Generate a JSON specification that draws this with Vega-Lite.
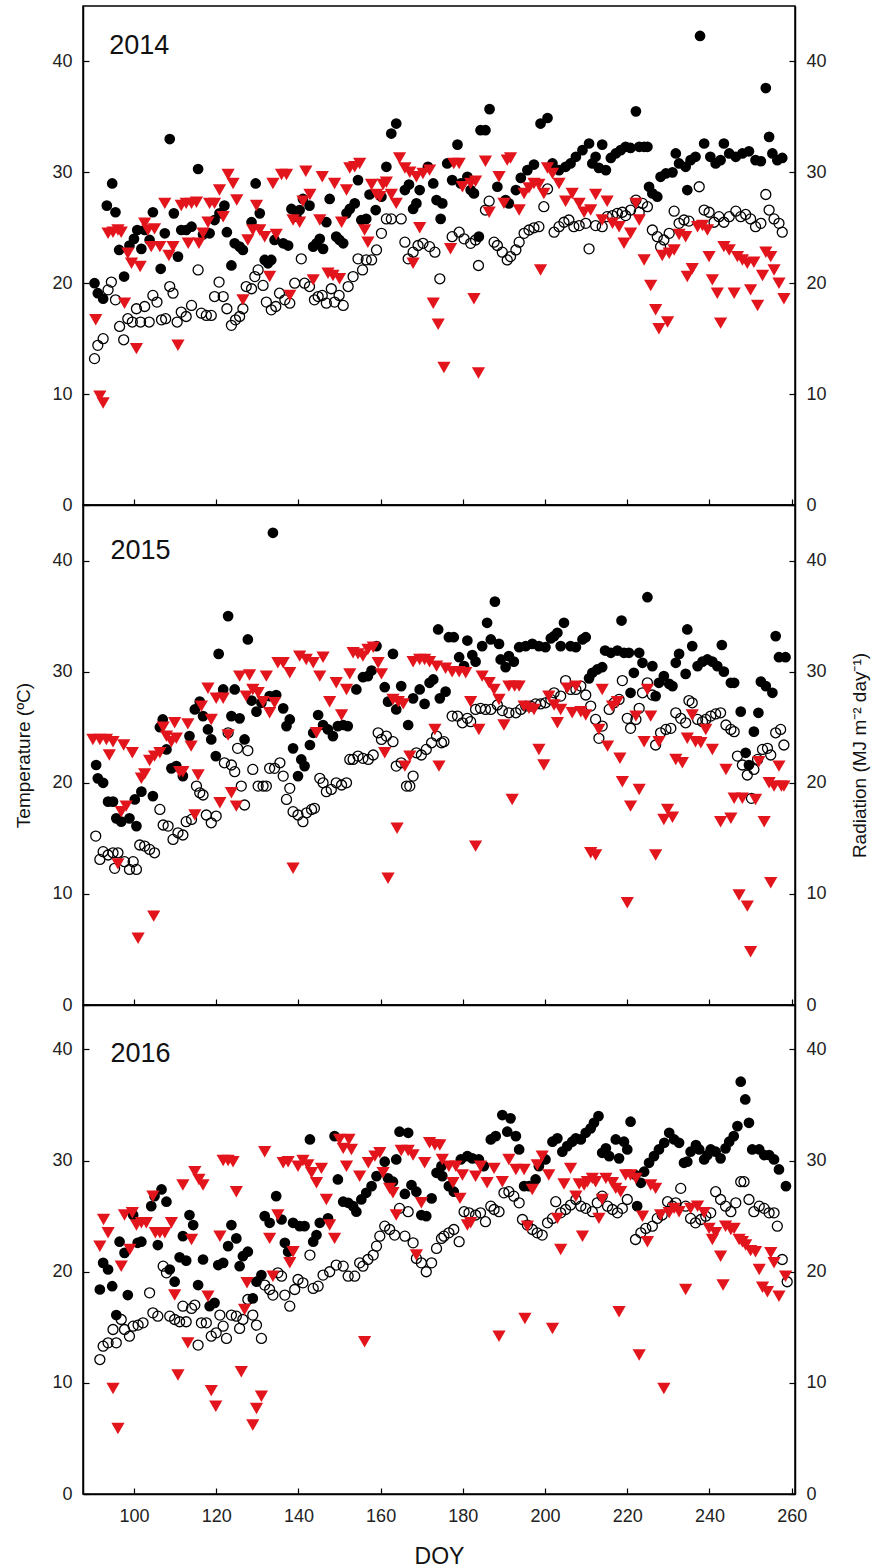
{
  "$schema": "https://vega.github.io/schema/vega-lite/v6.json",
  "padding": {"left": 14, "top": 5, "right": 6, "bottom": 2},
  "background": "white",
  "config": {
    "font": "Liberation Sans",
    "view": {"stroke": "#000", "strokeWidth": 1.5},
    "axis": {"grid": false, "domainColor": "#000", "domainWidth": 1.5, "tickColor": "#000", "tickWidth": 1.2, "tickSize": -6, "labelFont": "Liberation Sans", "labelFontSize": 18, "labelColor": "#222", "labelFlush": false, "labelOverlap": false, "labelPadding": 17, "titleFont": "Liberation Sans", "titleFontSize": 19, "titleFontWeight": "normal", "titleColor": "#111"}
  },
  "datasets": {
    "tmax2014": [{"d":90.4,"v":20.0},{"d":91.2,"v":19.1},{"d":92.5,"v":18.6},{"d":93.4,"v":27.0},{"d":94.7,"v":29.0},{"d":95.5,"v":26.4},{"d":96.4,"v":23.0},{"d":97.6,"v":20.6},{"d":98.9,"v":23.4},{"d":100.0,"v":24.0},{"d":100.8,"v":24.8},{"d":101.8,"v":23.1},{"d":102.6,"v":24.8},{"d":103.8,"v":23.9},{"d":104.6,"v":26.4},{"d":106.5,"v":21.3},{"d":107.5,"v":24.5},{"d":108.7,"v":33.0},{"d":109.7,"v":26.3},{"d":110.7,"v":22.4},{"d":111.5,"v":24.8},{"d":112.7,"v":24.8},{"d":114.0,"v":25.1},{"d":115.6,"v":30.3},{"d":116.8,"v":24.4},{"d":118.4,"v":24.5},{"d":119.6,"v":25.7},{"d":120.8,"v":26.3},{"d":122.0,"v":27.0},{"d":122.6,"v":24.6},{"d":123.7,"v":21.6},{"d":124.5,"v":23.6},{"d":125.7,"v":23.3},{"d":126.5,"v":23.0},{"d":128.6,"v":25.5},{"d":129.6,"v":29.0},{"d":130.6,"v":26.3},{"d":131.8,"v":22.1},{"d":132.6,"v":21.8},{"d":133.4,"v":22.1},{"d":134.2,"v":23.9},{"d":136.3,"v":23.6},{"d":137.5,"v":23.4},{"d":138.3,"v":26.7},{"d":139.5,"v":26.0},{"d":140.3,"v":26.6},{"d":141.1,"v":27.6},{"d":142.7,"v":27.0},{"d":143.6,"v":23.3},{"d":144.4,"v":23.6},{"d":145.2,"v":24.0},{"d":146.0,"v":23.1},{"d":146.8,"v":25.5},{"d":147.6,"v":27.6},{"d":149.2,"v":24.2},{"d":150.0,"v":23.9},{"d":150.9,"v":23.6},{"d":151.7,"v":26.3},{"d":152.5,"v":26.7},{"d":153.7,"v":27.2},{"d":154.5,"v":29.3},{"d":155.3,"v":25.7},{"d":156.5,"v":25.8},{"d":157.3,"v":28.0},{"d":158.8,"v":26.6},{"d":160.2,"v":27.8},{"d":161.4,"v":30.5},{"d":162.6,"v":33.5},{"d":163.8,"v":34.4},{"d":165.9,"v":28.4},{"d":166.9,"v":28.9},{"d":167.9,"v":26.7},{"d":168.7,"v":27.2},{"d":169.5,"v":28.4},{"d":171.5,"v":30.5},{"d":172.8,"v":29.0},{"d":173.6,"v":27.5},{"d":174.6,"v":25.8},{"d":175.0,"v":27.2},{"d":176.2,"v":30.8},{"d":177.4,"v":29.3},{"d":178.7,"v":32.5},{"d":179.5,"v":29.0},{"d":181.1,"v":29.6},{"d":181.9,"v":28.4},{"d":182.7,"v":28.1},{"d":183.9,"v":24.2},{"d":184.3,"v":33.8},{"d":185.5,"v":33.8},{"d":186.5,"v":35.7},{"d":188.4,"v":28.7},{"d":190.4,"v":27.5},{"d":191.2,"v":27.2},{"d":192.9,"v":28.4},{"d":194.1,"v":29.5},{"d":195.7,"v":30.2},{"d":197.3,"v":30.7},{"d":198.9,"v":34.4},{"d":200.6,"v":34.9},{"d":201.8,"v":30.8},{"d":203.4,"v":30.2},{"d":205.0,"v":30.5},{"d":206.2,"v":30.8},{"d":207.5,"v":31.4},{"d":209.1,"v":32.0},{"d":210.7,"v":32.6},{"d":211.5,"v":30.8},{"d":212.3,"v":31.4},{"d":213.1,"v":30.4},{"d":213.9,"v":32.5},{"d":214.8,"v":30.2},{"d":216.0,"v":31.3},{"d":217.2,"v":31.7},{"d":218.4,"v":32.0},{"d":219.6,"v":32.3},{"d":220.8,"v":32.2},{"d":222.1,"v":35.5},{"d":222.9,"v":32.3},{"d":224.1,"v":32.3},{"d":224.9,"v":32.3},{"d":225.3,"v":28.7},{"d":226.1,"v":28.1},{"d":227.3,"v":27.8},{"d":228.1,"v":29.6},{"d":229.4,"v":29.9},{"d":231.0,"v":30.0},{"d":231.8,"v":31.7},{"d":232.6,"v":30.8},{"d":234.2,"v":30.5},{"d":234.6,"v":28.4},{"d":235.4,"v":31.1},{"d":236.6,"v":31.4},{"d":237.7,"v":42.3},{"d":238.7,"v":32.6},{"d":240.2,"v":31.4},{"d":241.5,"v":30.8},{"d":242.7,"v":31.1},{"d":243.5,"v":32.6},{"d":244.8,"v":31.7},{"d":246.4,"v":31.4},{"d":248.0,"v":31.7},{"d":249.6,"v":31.9},{"d":251.2,"v":31.1},{"d":252.5,"v":31.0},{"d":253.7,"v":37.6},{"d":254.5,"v":33.2},{"d":255.3,"v":31.7},{"d":256.5,"v":31.1},{"d":257.7,"v":31.3}],
    "tmin2014": [{"d":90.4,"v":13.2},{"d":91.2,"v":14.4},{"d":92.5,"v":15.0},{"d":93.7,"v":19.4},{"d":94.5,"v":20.1},{"d":95.5,"v":18.5},{"d":96.5,"v":16.1},{"d":97.5,"v":14.9},{"d":98.5,"v":16.8},{"d":99.6,"v":16.5},{"d":100.6,"v":17.7},{"d":101.6,"v":16.5},{"d":102.6,"v":17.9},{"d":103.7,"v":16.5},{"d":104.6,"v":18.9},{"d":105.6,"v":18.3},{"d":106.7,"v":16.7},{"d":107.7,"v":16.8},{"d":108.7,"v":19.7},{"d":109.5,"v":19.1},{"d":110.5,"v":16.5},{"d":111.5,"v":17.4},{"d":112.7,"v":17.0},{"d":114.0,"v":18.0},{"d":115.6,"v":21.2},{"d":116.4,"v":17.3},{"d":117.6,"v":17.1},{"d":118.8,"v":17.1},{"d":119.6,"v":18.8},{"d":120.7,"v":20.1},{"d":121.7,"v":18.8},{"d":122.6,"v":17.7},{"d":123.7,"v":16.2},{"d":124.7,"v":16.7},{"d":125.7,"v":17.0},{"d":126.5,"v":17.7},{"d":127.3,"v":19.7},{"d":128.6,"v":19.5},{"d":129.4,"v":20.6},{"d":130.2,"v":21.2},{"d":131.4,"v":19.8},{"d":132.2,"v":18.3},{"d":133.4,"v":17.6},{"d":134.5,"v":17.9},{"d":135.4,"v":19.1},{"d":136.7,"v":18.5},{"d":137.9,"v":18.2},{"d":139.1,"v":20.0},{"d":140.7,"v":22.2},{"d":141.5,"v":20.0},{"d":142.7,"v":19.7},{"d":143.9,"v":18.5},{"d":144.8,"v":18.8},{"d":145.8,"v":18.9},{"d":146.8,"v":18.2},{"d":148.0,"v":19.5},{"d":148.8,"v":18.3},{"d":149.9,"v":18.9},{"d":150.9,"v":18.0},{"d":152.1,"v":19.7},{"d":153.3,"v":20.6},{"d":154.5,"v":22.2},{"d":155.6,"v":21.2},{"d":156.5,"v":22.1},{"d":157.8,"v":22.1},{"d":159.0,"v":23.0},{"d":160.2,"v":24.5},{"d":161.4,"v":25.8},{"d":162.6,"v":25.8},{"d":165.0,"v":25.8},{"d":165.9,"v":23.7},{"d":166.7,"v":22.2},{"d":167.9,"v":22.8},{"d":169.1,"v":23.4},{"d":170.3,"v":23.6},{"d":171.9,"v":23.3},{"d":173.2,"v":22.8},{"d":174.4,"v":20.4},{"d":177.4,"v":24.2},{"d":179.1,"v":24.6},{"d":180.3,"v":24.0},{"d":181.9,"v":23.6},{"d":183.1,"v":23.9},{"d":183.8,"v":21.6},{"d":185.5,"v":26.6},{"d":186.4,"v":27.4},{"d":187.6,"v":23.7},{"d":188.4,"v":23.4},{"d":189.6,"v":22.8},{"d":190.8,"v":22.1},{"d":191.6,"v":22.4},{"d":192.9,"v":23.0},{"d":193.7,"v":23.7},{"d":194.9,"v":24.5},{"d":196.1,"v":24.8},{"d":197.3,"v":25.0},{"d":198.5,"v":25.1},{"d":199.7,"v":26.9},{"d":200.6,"v":28.5},{"d":202.2,"v":24.6},{"d":203.4,"v":25.1},{"d":204.6,"v":25.5},{"d":205.8,"v":25.7},{"d":207.0,"v":25.1},{"d":208.3,"v":25.2},{"d":209.9,"v":25.4},{"d":210.7,"v":23.1},{"d":212.3,"v":25.2},{"d":213.9,"v":25.1},{"d":215.1,"v":26.0},{"d":216.4,"v":26.1},{"d":217.6,"v":26.3},{"d":218.8,"v":26.4},{"d":219.6,"v":26.1},{"d":220.8,"v":26.6},{"d":222.1,"v":27.5},{"d":222.9,"v":26.4},{"d":223.7,"v":27.2},{"d":224.9,"v":26.9},{"d":226.1,"v":24.8},{"d":227.3,"v":24.2},{"d":228.1,"v":23.3},{"d":228.9,"v":23.9},{"d":230.2,"v":24.5},{"d":231.4,"v":26.5},{"d":232.6,"v":25.4},{"d":233.8,"v":25.7},{"d":235.0,"v":25.6},{"d":237.5,"v":28.7},{"d":238.7,"v":26.6},{"d":239.9,"v":26.4},{"d":241.1,"v":25.5},{"d":242.3,"v":26.0},{"d":243.5,"v":25.5},{"d":244.8,"v":26.0},{"d":246.4,"v":26.5},{"d":247.6,"v":26.0},{"d":248.8,"v":26.2},{"d":250.0,"v":25.8},{"d":251.2,"v":25.1},{"d":252.5,"v":25.4},{"d":253.7,"v":28.0},{"d":254.5,"v":26.6},{"d":255.7,"v":25.8},{"d":256.9,"v":25.4},{"d":257.7,"v":24.6}],
    "rad2014": [{"d":90.7,"v":16.7},{"d":91.7,"v":9.8},{"d":92.5,"v":9.2},{"d":93.7,"v":24.5},{"d":94.9,"v":24.6},{"d":96.1,"v":24.8},{"d":96.9,"v":24.6},{"d":97.7,"v":18.2},{"d":98.5,"v":22.7},{"d":99.4,"v":21.8},{"d":100.6,"v":14.1},{"d":101.5,"v":21.5},{"d":102.6,"v":25.4},{"d":103.4,"v":24.8},{"d":104.2,"v":23.3},{"d":105.0,"v":24.9},{"d":106.3,"v":23.3},{"d":107.5,"v":27.2},{"d":108.5,"v":22.5},{"d":109.5,"v":23.3},{"d":110.7,"v":14.4},{"d":111.5,"v":27.0},{"d":112.7,"v":27.2},{"d":113.2,"v":23.6},{"d":114.0,"v":27.2},{"d":115.2,"v":27.3},{"d":115.8,"v":23.6},{"d":116.8,"v":24.5},{"d":118.0,"v":25.5},{"d":118.4,"v":27.2},{"d":119.6,"v":27.2},{"d":120.8,"v":28.4},{"d":121.7,"v":26.0},{"d":122.9,"v":29.8},{"d":124.1,"v":29.0},{"d":125.0,"v":27.5},{"d":126.5,"v":18.5},{"d":127.7,"v":23.9},{"d":128.9,"v":24.8},{"d":129.8,"v":27.0},{"d":130.6,"v":24.8},{"d":131.8,"v":24.2},{"d":133.0,"v":20.6},{"d":133.8,"v":29.0},{"d":134.6,"v":24.4},{"d":135.9,"v":29.8},{"d":137.1,"v":29.8},{"d":137.9,"v":18.9},{"d":138.7,"v":25.7},{"d":140.3,"v":25.5},{"d":141.1,"v":27.4},{"d":141.8,"v":30.1},{"d":142.8,"v":28.0},{"d":143.6,"v":20.3},{"d":145.2,"v":25.7},{"d":145.8,"v":29.6},{"d":147.2,"v":20.9},{"d":148.4,"v":20.7},{"d":148.8,"v":29.0},{"d":150.0,"v":20.4},{"d":150.5,"v":25.5},{"d":151.7,"v":28.4},{"d":152.5,"v":30.4},{"d":153.7,"v":30.5},{"d":154.9,"v":30.8},{"d":156.1,"v":24.8},{"d":156.9,"v":23.7},{"d":157.8,"v":28.9},{"d":159.0,"v":28.0},{"d":159.8,"v":27.8},{"d":160.6,"v":28.9},{"d":161.4,"v":29.1},{"d":162.6,"v":28.0},{"d":163.8,"v":27.2},{"d":164.6,"v":31.3},{"d":165.9,"v":30.4},{"d":167.1,"v":30.0},{"d":167.9,"v":21.8},{"d":168.7,"v":29.6},{"d":169.5,"v":25.0},{"d":170.3,"v":29.9},{"d":171.9,"v":30.2},{"d":172.8,"v":18.2},{"d":174.0,"v":16.3},{"d":175.4,"v":12.4},{"d":177.0,"v":23.1},{"d":177.8,"v":30.8},{"d":179.1,"v":30.8},{"d":179.9,"v":28.7},{"d":181.9,"v":29.0},{"d":183.1,"v":29.2},{"d":182.7,"v":18.6},{"d":183.8,"v":11.9},{"d":185.5,"v":31.0},{"d":186.4,"v":26.4},{"d":188.8,"v":29.6},{"d":190.0,"v":27.2},{"d":190.8,"v":31.1},{"d":191.6,"v":31.3},{"d":193.7,"v":26.6},{"d":194.9,"v":28.1},{"d":196.1,"v":28.6},{"d":197.3,"v":29.0},{"d":198.5,"v":28.9},{"d":199.7,"v":28.1},{"d":198.9,"v":21.2},{"d":200.6,"v":30.4},{"d":201.8,"v":29.9},{"d":203.4,"v":29.0},{"d":205.0,"v":27.4},{"d":206.6,"v":28.1},{"d":208.3,"v":27.2},{"d":209.5,"v":26.4},{"d":211.1,"v":26.6},{"d":212.3,"v":28.0},{"d":213.9,"v":25.7},{"d":215.1,"v":27.4},{"d":216.4,"v":25.4},{"d":218.0,"v":25.1},{"d":219.2,"v":23.6},{"d":220.8,"v":24.5},{"d":222.1,"v":27.2},{"d":222.9,"v":25.7},{"d":224.1,"v":22.1},{"d":225.7,"v":19.8},{"d":226.9,"v":17.6},{"d":227.7,"v":15.9},{"d":229.8,"v":16.5},{"d":228.5,"v":22.5},{"d":230.2,"v":22.7},{"d":231.4,"v":23.0},{"d":232.6,"v":24.4},{"d":234.2,"v":24.2},{"d":234.6,"v":20.6},{"d":235.8,"v":21.3},{"d":237.1,"v":25.1},{"d":238.3,"v":25.2},{"d":239.5,"v":24.8},{"d":239.9,"v":22.4},{"d":240.7,"v":20.3},{"d":241.9,"v":19.1},{"d":242.7,"v":16.4},{"d":243.5,"v":23.3},{"d":244.8,"v":23.0},{"d":246.0,"v":19.1},{"d":246.8,"v":22.4},{"d":248.0,"v":22.1},{"d":249.2,"v":21.8},{"d":250.0,"v":19.4},{"d":250.8,"v":21.9},{"d":251.7,"v":18.0},{"d":252.9,"v":20.7},{"d":253.7,"v":22.8},{"d":254.9,"v":22.4},{"d":255.7,"v":21.2},{"d":256.9,"v":20.0},{"d":258.1,"v":18.6}],
    "tmax2015": [{"d":90.8,"v":21.6},{"d":91.2,"v":20.4},{"d":92.5,"v":20.0},{"d":93.7,"v":18.3},{"d":94.9,"v":18.3},{"d":95.7,"v":16.8},{"d":96.9,"v":16.5},{"d":98.9,"v":16.8},{"d":100.2,"v":18.5},{"d":100.6,"v":16.1},{"d":101.8,"v":19.2},{"d":104.6,"v":18.8},{"d":106.3,"v":25.0},{"d":107.0,"v":25.7},{"d":107.9,"v":23.0},{"d":109.1,"v":21.3},{"d":110.3,"v":21.5},{"d":111.9,"v":20.6},{"d":113.5,"v":24.2},{"d":114.8,"v":26.6},{"d":116.0,"v":27.3},{"d":116.8,"v":26.0},{"d":118.0,"v":24.8},{"d":118.8,"v":23.9},{"d":119.9,"v":22.4},{"d":120.6,"v":31.6},{"d":121.7,"v":28.4},{"d":122.9,"v":35.0},{"d":123.7,"v":26.0},{"d":124.5,"v":28.4},{"d":125.7,"v":25.8},{"d":126.9,"v":23.9},{"d":127.7,"v":32.9},{"d":128.6,"v":27.4},{"d":129.8,"v":26.4},{"d":131.0,"v":27.2},{"d":133.0,"v":27.8},{"d":133.8,"v":42.5},{"d":134.6,"v":27.9},{"d":136.3,"v":26.7},{"d":137.1,"v":25.1},{"d":137.9,"v":25.7},{"d":138.7,"v":23.1},{"d":139.9,"v":20.6},{"d":140.7,"v":22.1},{"d":141.5,"v":21.5},{"d":142.8,"v":23.4},{"d":143.6,"v":24.5},{"d":144.8,"v":26.1},{"d":146.0,"v":25.2},{"d":147.2,"v":24.8},{"d":148.4,"v":24.2},{"d":149.6,"v":25.1},{"d":150.9,"v":25.2},{"d":152.0,"v":25.1},{"d":154.1,"v":28.4},{"d":155.7,"v":29.5},{"d":156.9,"v":29.6},{"d":157.8,"v":30.1},{"d":159.0,"v":32.3},{"d":161.0,"v":28.6},{"d":161.8,"v":27.3},{"d":163.0,"v":31.6},{"d":163.8,"v":26.6},{"d":165.0,"v":28.7},{"d":166.7,"v":25.2},{"d":167.9,"v":27.6},{"d":169.5,"v":28.4},{"d":170.7,"v":27.1},{"d":171.9,"v":29.0},{"d":172.8,"v":29.3},{"d":174.0,"v":33.8},{"d":174.4,"v":27.6},{"d":175.8,"v":28.2},{"d":176.6,"v":33.1},{"d":177.8,"v":33.1},{"d":179.1,"v":31.3},{"d":180.3,"v":30.5},{"d":181.1,"v":32.8},{"d":182.3,"v":31.5},{"d":183.1,"v":30.9},{"d":184.7,"v":32.3},{"d":185.9,"v":34.4},{"d":186.8,"v":32.9},{"d":187.8,"v":36.3},{"d":188.8,"v":32.5},{"d":189.2,"v":31.1},{"d":190.4,"v":30.4},{"d":191.2,"v":31.4},{"d":192.4,"v":30.9},{"d":193.7,"v":32.2},{"d":195.3,"v":32.3},{"d":196.9,"v":32.5},{"d":198.5,"v":32.3},{"d":200.1,"v":32.2},{"d":201.4,"v":33.0},{"d":202.2,"v":33.2},{"d":203.0,"v":33.5},{"d":203.8,"v":32.3},{"d":204.6,"v":34.4},{"d":206.2,"v":32.3},{"d":207.5,"v":32.2},{"d":209.1,"v":32.9},{"d":209.9,"v":33.1},{"d":210.7,"v":29.4},{"d":211.5,"v":29.9},{"d":212.7,"v":30.2},{"d":213.9,"v":30.4},{"d":214.6,"v":31.9},{"d":216.0,"v":31.7},{"d":217.6,"v":31.9},{"d":218.6,"v":34.6},{"d":219.2,"v":31.7},{"d":220.4,"v":31.7},{"d":221.6,"v":29.9},{"d":220.8,"v":28.1},{"d":222.9,"v":31.7},{"d":223.7,"v":30.8},{"d":224.9,"v":36.7},{"d":226.1,"v":30.5},{"d":226.9,"v":27.8},{"d":227.7,"v":29.0},{"d":228.9,"v":29.6},{"d":230.2,"v":28.9},{"d":231.0,"v":28.7},{"d":231.8,"v":30.8},{"d":232.6,"v":31.6},{"d":234.2,"v":29.8},{"d":234.6,"v":33.8},{"d":235.8,"v":32.3},{"d":237.1,"v":30.5},{"d":238.3,"v":30.9},{"d":239.5,"v":31.1},{"d":240.7,"v":30.9},{"d":241.9,"v":30.5},{"d":243.0,"v":32.4},{"d":243.5,"v":30.0},{"d":245.2,"v":29.0},{"d":246.0,"v":29.0},{"d":247.6,"v":26.4},{"d":248.8,"v":22.7},{"d":249.6,"v":21.6},{"d":250.8,"v":24.6},{"d":251.9,"v":26.3},{"d":252.5,"v":29.1},{"d":253.7,"v":28.7},{"d":255.3,"v":28.1},{"d":256.1,"v":33.2},{"d":256.9,"v":31.3},{"d":258.5,"v":31.3}],
    "tmin2015": [{"d":90.7,"v":15.2},{"d":91.7,"v":13.1},{"d":92.5,"v":13.8},{"d":93.7,"v":13.5},{"d":94.9,"v":13.7},{"d":95.3,"v":12.3},{"d":96.1,"v":13.7},{"d":97.7,"v":12.9},{"d":98.9,"v":12.2},{"d":99.8,"v":12.9},{"d":100.6,"v":12.2},{"d":101.4,"v":14.4},{"d":102.6,"v":14.3},{"d":103.8,"v":14.0},{"d":105.0,"v":13.7},{"d":106.3,"v":17.6},{"d":107.1,"v":16.2},{"d":108.3,"v":16.1},{"d":109.5,"v":14.9},{"d":110.7,"v":15.5},{"d":111.9,"v":15.3},{"d":112.7,"v":16.5},{"d":114.0,"v":16.7},{"d":115.2,"v":19.7},{"d":116.0,"v":19.1},{"d":116.8,"v":18.9},{"d":117.6,"v":17.1},{"d":118.8,"v":16.4},{"d":120.0,"v":17.0},{"d":122.0,"v":21.8},{"d":122.9,"v":24.5},{"d":123.7,"v":21.6},{"d":124.5,"v":21.0},{"d":125.2,"v":23.1},{"d":126.1,"v":19.7},{"d":126.9,"v":18.0},{"d":127.7,"v":22.9},{"d":128.9,"v":21.2},{"d":130.2,"v":19.7},{"d":131.4,"v":19.7},{"d":132.2,"v":19.7},{"d":133.0,"v":21.3},{"d":134.2,"v":21.3},{"d":135.5,"v":21.8},{"d":136.3,"v":20.6},{"d":137.1,"v":18.5},{"d":137.9,"v":19.5},{"d":138.7,"v":17.4},{"d":139.9,"v":17.1},{"d":141.1,"v":16.5},{"d":142.0,"v":17.3},{"d":143.2,"v":17.6},{"d":143.9,"v":17.7},{"d":145.2,"v":20.4},{"d":146.0,"v":20.0},{"d":146.8,"v":19.2},{"d":148.0,"v":19.4},{"d":149.2,"v":20.0},{"d":150.5,"v":19.8},{"d":151.7,"v":20.0},{"d":152.5,"v":22.1},{"d":153.3,"v":22.1},{"d":154.5,"v":22.4},{"d":155.7,"v":22.2},{"d":157.0,"v":22.1},{"d":158.2,"v":22.5},{"d":159.4,"v":24.5},{"d":160.2,"v":23.9},{"d":161.4,"v":24.2},{"d":163.0,"v":23.7},{"d":163.8,"v":21.5},{"d":165.0,"v":21.8},{"d":166.3,"v":19.7},{"d":167.1,"v":19.7},{"d":167.9,"v":20.6},{"d":168.7,"v":22.7},{"d":169.9,"v":22.5},{"d":171.1,"v":23.0},{"d":172.4,"v":23.6},{"d":173.6,"v":24.2},{"d":174.8,"v":23.6},{"d":175.4,"v":23.7},{"d":177.4,"v":26.0},{"d":178.7,"v":26.0},{"d":179.9,"v":25.4},{"d":181.1,"v":25.8},{"d":181.9,"v":25.5},{"d":183.1,"v":26.6},{"d":184.3,"v":26.7},{"d":185.5,"v":26.6},{"d":186.8,"v":26.6},{"d":188.4,"v":27.0},{"d":189.6,"v":26.5},{"d":191.2,"v":26.3},{"d":192.9,"v":26.3},{"d":194.1,"v":26.6},{"d":195.3,"v":26.9},{"d":196.5,"v":26.9},{"d":197.7,"v":27.1},{"d":198.9,"v":27.1},{"d":200.1,"v":27.2},{"d":201.4,"v":27.5},{"d":202.2,"v":28.1},{"d":203.8,"v":27.8},{"d":205.0,"v":29.2},{"d":206.2,"v":28.4},{"d":207.5,"v":28.4},{"d":208.7,"v":28.7},{"d":209.9,"v":27.9},{"d":211.1,"v":26.9},{"d":212.3,"v":25.7},{"d":213.1,"v":24.0},{"d":213.9,"v":25.1},{"d":215.6,"v":26.6},{"d":216.8,"v":27.2},{"d":218.0,"v":27.5},{"d":218.8,"v":29.2},{"d":220.0,"v":25.8},{"d":220.8,"v":24.9},{"d":222.1,"v":25.7},{"d":222.9,"v":26.7},{"d":223.7,"v":28.1},{"d":224.9,"v":29.0},{"d":226.1,"v":27.9},{"d":226.9,"v":23.4},{"d":228.1,"v":24.5},{"d":229.4,"v":24.8},{"d":230.6,"v":24.9},{"d":231.8,"v":26.3},{"d":233.0,"v":25.8},{"d":234.2,"v":25.4},{"d":235.0,"v":27.4},{"d":235.8,"v":27.2},{"d":237.1,"v":25.7},{"d":238.3,"v":25.5},{"d":239.1,"v":25.7},{"d":240.3,"v":26.0},{"d":241.5,"v":26.2},{"d":242.7,"v":26.3},{"d":244.0,"v":25.2},{"d":245.2,"v":24.8},{"d":246.0,"v":24.6},{"d":246.8,"v":22.4},{"d":248.0,"v":21.6},{"d":249.2,"v":20.7},{"d":250.2,"v":18.6},{"d":250.8,"v":21.2},{"d":251.7,"v":22.1},{"d":252.9,"v":23.0},{"d":254.1,"v":23.1},{"d":254.9,"v":22.5},{"d":256.1,"v":24.5},{"d":257.3,"v":24.8},{"d":258.1,"v":23.4}],
    "rad2015": [{"d":90.0,"v":23.9},{"d":91.7,"v":23.9},{"d":93.3,"v":23.9},{"d":94.0,"v":22.5},{"d":94.9,"v":23.7},{"d":96.1,"v":12.7},{"d":96.9,"v":17.4},{"d":97.5,"v":23.4},{"d":98.1,"v":17.9},{"d":99.6,"v":22.7},{"d":101.0,"v":6.0},{"d":101.8,"v":20.4},{"d":102.6,"v":20.8},{"d":103.8,"v":22.0},{"d":104.8,"v":8.0},{"d":105.0,"v":22.4},{"d":106.3,"v":22.7},{"d":107.1,"v":25.0},{"d":107.9,"v":24.2},{"d":109.1,"v":23.7},{"d":109.9,"v":25.4},{"d":110.3,"v":24.0},{"d":111.1,"v":21.0},{"d":111.9,"v":21.0},{"d":113.1,"v":25.3},{"d":113.9,"v":23.3},{"d":114.8,"v":17.1},{"d":115.6,"v":20.7},{"d":116.4,"v":26.9},{"d":118.0,"v":28.5},{"d":118.8,"v":25.7},{"d":120.0,"v":27.6},{"d":120.9,"v":18.2},{"d":121.7,"v":27.6},{"d":122.9,"v":24.3},{"d":123.7,"v":19.1},{"d":124.9,"v":17.9},{"d":125.7,"v":29.6},{"d":127.3,"v":27.8},{"d":128.1,"v":29.7},{"d":128.9,"v":28.4},{"d":130.2,"v":28.1},{"d":131.4,"v":27.3},{"d":132.2,"v":29.6},{"d":133.0,"v":26.3},{"d":134.2,"v":27.2},{"d":135.0,"v":30.8},{"d":136.3,"v":30.8},{"d":137.9,"v":29.9},{"d":138.7,"v":12.3},{"d":140.3,"v":31.4},{"d":141.9,"v":31.1},{"d":143.6,"v":30.8},{"d":144.4,"v":24.5},{"d":145.2,"v":29.6},{"d":146.0,"v":31.3},{"d":147.6,"v":27.3},{"d":149.2,"v":29.0},{"d":150.5,"v":26.1},{"d":151.7,"v":28.4},{"d":152.5,"v":29.8},{"d":153.3,"v":31.7},{"d":154.5,"v":31.6},{"d":155.7,"v":31.4},{"d":156.9,"v":32.0},{"d":158.2,"v":32.2},{"d":159.4,"v":30.8},{"d":160.2,"v":29.8},{"d":161.0,"v":22.7},{"d":161.8,"v":11.4},{"d":163.0,"v":27.5},{"d":164.0,"v":15.9},{"d":164.3,"v":27.3},{"d":165.5,"v":27.1},{"d":165.9,"v":21.5},{"d":167.1,"v":22.4},{"d":167.9,"v":30.9},{"d":169.5,"v":31.1},{"d":170.7,"v":31.1},{"d":171.9,"v":30.9},{"d":173.6,"v":30.5},{"d":173.2,"v":24.8},{"d":174.2,"v":21.5},{"d":175.8,"v":30.3},{"d":177.4,"v":30.0},{"d":179.1,"v":30.0},{"d":180.7,"v":29.9},{"d":181.9,"v":27.3},{"d":183.1,"v":14.3},{"d":183.9,"v":24.8},{"d":184.7,"v":29.6},{"d":186.4,"v":29.0},{"d":187.6,"v":28.4},{"d":188.8,"v":27.5},{"d":190.0,"v":25.2},{"d":191.2,"v":28.7},{"d":192.0,"v":18.5},{"d":192.6,"v":28.7},{"d":193.7,"v":28.7},{"d":194.9,"v":26.9},{"d":196.1,"v":26.7},{"d":197.3,"v":26.6},{"d":198.5,"v":23.0},{"d":199.7,"v":21.6},{"d":200.9,"v":27.8},{"d":202.2,"v":27.0},{"d":203.0,"v":25.4},{"d":203.8,"v":26.6},{"d":205.4,"v":28.5},{"d":206.6,"v":26.3},{"d":207.5,"v":28.7},{"d":208.7,"v":26.4},{"d":209.9,"v":26.1},{"d":211.1,"v":13.7},{"d":212.3,"v":13.5},{"d":213.1,"v":24.8},{"d":213.9,"v":28.4},{"d":215.2,"v":23.3},{"d":216.4,"v":26.9},{"d":217.6,"v":27.3},{"d":218.2,"v":22.2},{"d":218.8,"v":20.1},{"d":220.0,"v":9.2},{"d":220.8,"v":17.9},{"d":222.1,"v":26.0},{"d":222.9,"v":19.4},{"d":224.1,"v":23.7},{"d":224.9,"v":28.4},{"d":225.7,"v":26.0},{"d":226.9,"v":13.5},{"d":227.7,"v":23.7},{"d":228.9,"v":16.7},{"d":229.8,"v":17.6},{"d":231.0,"v":16.9},{"d":231.8,"v":22.1},{"d":233.4,"v":21.8},{"d":234.6,"v":24.0},{"d":235.8,"v":26.1},{"d":236.6,"v":23.7},{"d":237.9,"v":23.6},{"d":239.1,"v":24.8},{"d":240.7,"v":23.0},{"d":242.7,"v":16.5},{"d":244.0,"v":21.2},{"d":245.2,"v":16.8},{"d":246.0,"v":18.6},{"d":247.2,"v":9.9},{"d":248.0,"v":18.6},{"d":249.2,"v":8.9},{"d":250.0,"v":4.8},{"d":251.2,"v":18.5},{"d":252.0,"v":21.9},{"d":253.3,"v":16.5},{"d":254.5,"v":20.0},{"d":254.9,"v":11.0},{"d":255.7,"v":19.7},{"d":256.9,"v":21.5},{"d":257.5,"v":19.7},{"d":258.1,"v":19.7}],
    "tmax2016": [{"d":91.7,"v":18.4},{"d":92.5,"v":20.8},{"d":93.7,"v":20.2},{"d":94.7,"v":18.7},{"d":95.7,"v":16.1},{"d":96.5,"v":22.7},{"d":97.7,"v":21.7},{"d":98.5,"v":17.9},{"d":99.8,"v":25.1},{"d":100.9,"v":22.6},{"d":101.8,"v":22.7},{"d":104.2,"v":25.9},{"d":105.0,"v":26.8},{"d":105.8,"v":22.4},{"d":106.7,"v":27.4},{"d":107.9,"v":26.3},{"d":108.7,"v":20.2},{"d":109.9,"v":19.1},{"d":111.1,"v":21.3},{"d":111.9,"v":23.2},{"d":112.7,"v":21.0},{"d":113.5,"v":25.1},{"d":114.4,"v":24.2},{"d":115.6,"v":18.8},{"d":116.8,"v":21.1},{"d":118.4,"v":16.9},{"d":119.6,"v":17.2},{"d":120.5,"v":20.6},{"d":121.7,"v":20.8},{"d":122.9,"v":22.3},{"d":123.7,"v":24.2},{"d":124.9,"v":23.0},{"d":125.7,"v":20.5},{"d":126.5,"v":21.4},{"d":127.7,"v":21.8},{"d":128.9,"v":17.6},{"d":129.8,"v":19.1},{"d":131.0,"v":19.7},{"d":131.8,"v":25.0},{"d":133.0,"v":24.4},{"d":134.6,"v":26.8},{"d":135.9,"v":24.7},{"d":136.7,"v":22.6},{"d":137.5,"v":21.8},{"d":138.7,"v":24.4},{"d":140.3,"v":24.1},{"d":141.5,"v":24.1},{"d":142.8,"v":31.9},{"d":143.6,"v":22.7},{"d":144.4,"v":23.3},{"d":145.2,"v":24.4},{"d":147.2,"v":24.8},{"d":148.8,"v":32.2},{"d":149.6,"v":28.3},{"d":150.9,"v":26.3},{"d":152.1,"v":26.2},{"d":153.3,"v":25.9},{"d":154.1,"v":25.4},{"d":155.3,"v":26.5},{"d":156.5,"v":27.1},{"d":157.8,"v":27.7},{"d":159.0,"v":28.6},{"d":161.0,"v":29.9},{"d":161.8,"v":28.4},{"d":163.0,"v":28.1},{"d":163.8,"v":30.1},{"d":164.6,"v":32.6},{"d":165.9,"v":27.0},{"d":166.7,"v":32.5},{"d":167.5,"v":27.8},{"d":168.7,"v":27.2},{"d":169.9,"v":25.1},{"d":171.1,"v":25.0},{"d":172.4,"v":26.6},{"d":173.6,"v":28.9},{"d":174.8,"v":29.5},{"d":175.0,"v":28.6},{"d":176.6,"v":27.7},{"d":177.8,"v":27.2},{"d":179.5,"v":30.1},{"d":181.1,"v":30.4},{"d":182.3,"v":30.2},{"d":183.9,"v":30.1},{"d":185.1,"v":29.5},{"d":186.8,"v":31.9},{"d":188.0,"v":32.2},{"d":189.6,"v":34.1},{"d":190.8,"v":32.6},{"d":191.6,"v":33.8},{"d":192.9,"v":32.2},{"d":193.7,"v":31.0},{"d":194.9,"v":27.7},{"d":196.1,"v":27.7},{"d":197.7,"v":28.3},{"d":198.5,"v":29.5},{"d":200.1,"v":30.1},{"d":201.8,"v":31.7},{"d":203.0,"v":32.0},{"d":204.2,"v":30.8},{"d":205.4,"v":31.3},{"d":206.6,"v":31.7},{"d":207.5,"v":32.0},{"d":208.7,"v":31.9},{"d":209.9,"v":32.5},{"d":211.1,"v":32.9},{"d":211.9,"v":33.4},{"d":213.0,"v":34.0},{"d":213.9,"v":30.7},{"d":214.8,"v":31.1},{"d":215.6,"v":30.4},{"d":217.2,"v":31.9},{"d":218.0,"v":30.2},{"d":219.2,"v":31.7},{"d":220.0,"v":31.0},{"d":220.8,"v":33.5},{"d":222.0,"v":28.7},{"d":222.4,"v":25.9},{"d":223.3,"v":28.0},{"d":224.1,"v":29.0},{"d":225.3,"v":29.8},{"d":226.5,"v":30.4},{"d":227.7,"v":31.0},{"d":229.0,"v":31.6},{"d":230.2,"v":32.5},{"d":231.4,"v":31.9},{"d":232.6,"v":31.6},{"d":233.8,"v":29.8},{"d":234.6,"v":29.9},{"d":235.4,"v":30.8},{"d":236.7,"v":31.4},{"d":237.5,"v":31.0},{"d":238.7,"v":30.1},{"d":239.5,"v":30.5},{"d":240.3,"v":31.0},{"d":241.5,"v":30.8},{"d":242.7,"v":30.2},{"d":243.9,"v":31.1},{"d":244.8,"v":31.7},{"d":245.9,"v":32.2},{"d":246.8,"v":33.1},{"d":247.6,"v":37.1},{"d":248.7,"v":35.5},{"d":249.6,"v":33.4},{"d":250.4,"v":31.0},{"d":252.1,"v":31.0},{"d":253.3,"v":30.5},{"d":254.5,"v":30.5},{"d":255.7,"v":30.1},{"d":256.9,"v":29.2},{"d":258.6,"v":27.7}],
    "tmin2016": [{"d":91.7,"v":12.1},{"d":92.5,"v":13.3},{"d":93.7,"v":13.6},{"d":94.9,"v":14.8},{"d":95.7,"v":13.6},{"d":96.9,"v":15.7},{"d":97.7,"v":14.8},{"d":98.9,"v":14.2},{"d":99.8,"v":15.1},{"d":101.0,"v":15.2},{"d":102.2,"v":15.4},{"d":103.8,"v":18.1},{"d":104.6,"v":16.3},{"d":105.8,"v":16.0},{"d":107.1,"v":20.5},{"d":107.9,"v":19.9},{"d":108.7,"v":16.0},{"d":109.9,"v":15.7},{"d":111.1,"v":15.5},{"d":111.9,"v":16.9},{"d":112.7,"v":15.5},{"d":114.0,"v":16.7},{"d":114.8,"v":17.0},{"d":115.6,"v":13.4},{"d":116.4,"v":15.4},{"d":117.6,"v":15.4},{"d":118.8,"v":14.2},{"d":120.0,"v":14.5},{"d":120.9,"v":16.1},{"d":121.7,"v":15.1},{"d":122.5,"v":14.0},{"d":123.7,"v":16.1},{"d":124.9,"v":16.0},{"d":125.7,"v":14.9},{"d":126.5,"v":15.7},{"d":127.7,"v":17.5},{"d":128.9,"v":16.1},{"d":129.8,"v":15.2},{"d":131.0,"v":14.0},{"d":131.8,"v":18.8},{"d":133.0,"v":18.4},{"d":133.8,"v":17.9},{"d":135.0,"v":19.9},{"d":135.9,"v":19.6},{"d":136.7,"v":17.9},{"d":137.9,"v":16.9},{"d":139.1,"v":18.4},{"d":139.9,"v":19.3},{"d":141.1,"v":19.0},{"d":142.8,"v":21.5},{"d":143.6,"v":18.5},{"d":144.8,"v":18.7},{"d":146.0,"v":19.7},{"d":147.6,"v":20.0},{"d":149.2,"v":20.6},{"d":150.9,"v":20.5},{"d":152.1,"v":19.6},{"d":153.7,"v":19.6},{"d":154.9,"v":20.8},{"d":155.7,"v":20.5},{"d":156.9,"v":21.1},{"d":158.2,"v":21.5},{"d":159.0,"v":22.3},{"d":159.8,"v":23.2},{"d":161.0,"v":24.1},{"d":162.2,"v":23.8},{"d":163.4,"v":23.3},{"d":164.6,"v":25.7},{"d":165.9,"v":23.2},{"d":166.7,"v":25.4},{"d":167.9,"v":22.6},{"d":168.7,"v":21.2},{"d":169.9,"v":20.8},{"d":171.1,"v":20.0},{"d":172.4,"v":20.8},{"d":173.6,"v":22.1},{"d":174.8,"v":23.0},{"d":175.4,"v":23.2},{"d":176.6,"v":23.5},{"d":177.8,"v":23.8},{"d":179.1,"v":22.7},{"d":180.3,"v":25.4},{"d":181.5,"v":25.3},{"d":183.1,"v":25.1},{"d":184.3,"v":25.3},{"d":185.5,"v":24.5},{"d":186.8,"v":25.9},{"d":187.6,"v":25.6},{"d":188.8,"v":25.4},{"d":190.0,"v":27.1},{"d":191.2,"v":27.2},{"d":192.4,"v":26.8},{"d":193.7,"v":26.2},{"d":194.5,"v":24.7},{"d":195.7,"v":24.2},{"d":196.9,"v":23.8},{"d":198.1,"v":23.5},{"d":199.3,"v":23.3},{"d":200.6,"v":24.4},{"d":201.8,"v":24.8},{"d":202.6,"v":26.3},{"d":203.8,"v":25.3},{"d":205.0,"v":25.6},{"d":206.2,"v":26.0},{"d":207.5,"v":26.5},{"d":208.7,"v":25.9},{"d":209.9,"v":25.7},{"d":211.5,"v":25.4},{"d":212.7,"v":26.2},{"d":213.9,"v":26.8},{"d":215.2,"v":25.9},{"d":216.4,"v":25.6},{"d":217.6,"v":25.3},{"d":218.8,"v":25.7},{"d":220.0,"v":26.5},{"d":222.0,"v":22.9},{"d":223.3,"v":23.5},{"d":224.5,"v":23.9},{"d":226.1,"v":24.1},{"d":227.3,"v":24.8},{"d":228.5,"v":25.1},{"d":229.8,"v":26.3},{"d":231.0,"v":25.9},{"d":231.8,"v":26.2},{"d":233.0,"v":27.5},{"d":234.2,"v":25.9},{"d":235.4,"v":24.8},{"d":236.6,"v":24.4},{"d":237.9,"v":24.7},{"d":239.1,"v":25.0},{"d":240.3,"v":25.3},{"d":241.5,"v":27.2},{"d":242.7,"v":26.5},{"d":243.9,"v":25.9},{"d":245.2,"v":25.4},{"d":246.4,"v":26.2},{"d":247.6,"v":28.1},{"d":248.4,"v":28.1},{"d":249.6,"v":26.5},{"d":250.8,"v":25.4},{"d":252.1,"v":25.9},{"d":253.3,"v":25.7},{"d":254.5,"v":25.3},{"d":255.7,"v":25.3},{"d":256.5,"v":24.1},{"d":257.7,"v":21.1},{"d":258.9,"v":19.1}],
    "rad2016": [{"d":91.7,"v":22.3},{"d":92.6,"v":24.7},{"d":93.7,"v":23.5},{"d":94.9,"v":9.5},{"d":96.1,"v":5.9},{"d":96.9,"v":20.5},{"d":97.7,"v":25.1},{"d":99.0,"v":22.0},{"d":99.6,"v":25.3},{"d":100.6,"v":24.2},{"d":101.8,"v":24.4},{"d":103.0,"v":24.4},{"d":104.6,"v":26.8},{"d":105.2,"v":23.5},{"d":106.3,"v":23.5},{"d":107.5,"v":23.5},{"d":109.1,"v":24.4},{"d":109.9,"v":17.9},{"d":110.7,"v":10.7},{"d":111.9,"v":27.8},{"d":113.1,"v":13.6},{"d":114.0,"v":22.9},{"d":114.8,"v":29.0},{"d":115.8,"v":28.3},{"d":116.8,"v":27.8},{"d":118.0,"v":17.8},{"d":118.8,"v":9.3},{"d":119.9,"v":7.9},{"d":120.9,"v":23.2},{"d":121.7,"v":30.0},{"d":122.9,"v":30.0},{"d":124.1,"v":29.9},{"d":124.9,"v":27.2},{"d":126.1,"v":11.0},{"d":126.9,"v":16.6},{"d":127.5,"v":19.0},{"d":128.9,"v":6.2},{"d":129.8,"v":7.7},{"d":131.0,"v":8.8},{"d":131.8,"v":30.8},{"d":133.0,"v":23.0},{"d":133.8,"v":19.6},{"d":135.0,"v":25.1},{"d":136.3,"v":29.8},{"d":137.5,"v":29.9},{"d":137.9,"v":20.8},{"d":138.7,"v":21.8},{"d":139.9,"v":29.5},{"d":141.1,"v":30.0},{"d":142.3,"v":29.6},{"d":143.2,"v":28.9},{"d":144.4,"v":28.0},{"d":145.6,"v":29.3},{"d":146.8,"v":26.5},{"d":147.6,"v":24.2},{"d":148.8,"v":23.0},{"d":150.0,"v":31.9},{"d":150.9,"v":31.1},{"d":151.7,"v":29.5},{"d":152.3,"v":31.9},{"d":152.9,"v":31.0},{"d":154.9,"v":28.6},{"d":156.1,"v":13.7},{"d":157.0,"v":29.8},{"d":158.6,"v":30.4},{"d":159.8,"v":30.7},{"d":160.6,"v":28.9},{"d":162.2,"v":27.5},{"d":163.0,"v":27.1},{"d":163.8,"v":25.1},{"d":165.0,"v":30.9},{"d":166.7,"v":30.9},{"d":167.9,"v":30.5},{"d":168.7,"v":21.5},{"d":169.9,"v":26.2},{"d":170.7,"v":29.8},{"d":171.9,"v":31.6},{"d":173.2,"v":31.4},{"d":174.4,"v":31.4},{"d":175.0,"v":30.1},{"d":176.6,"v":29.5},{"d":177.6,"v":28.0},{"d":178.3,"v":29.5},{"d":179.3,"v":26.6},{"d":179.9,"v":28.7},{"d":181.1,"v":24.2},{"d":181.9,"v":24.4},{"d":183.1,"v":28.6},{"d":184.3,"v":29.5},{"d":185.9,"v":28.0},{"d":187.6,"v":29.3},{"d":188.8,"v":14.2},{"d":189.6,"v":28.1},{"d":191.2,"v":30.1},{"d":192.9,"v":29.2},{"d":194.9,"v":29.2},{"d":195.1,"v":15.8},{"d":195.7,"v":24.1},{"d":196.9,"v":27.4},{"d":198.1,"v":29.6},{"d":199.3,"v":30.4},{"d":200.9,"v":28.7},{"d":201.8,"v":14.9},{"d":203.0,"v":24.8},{"d":203.8,"v":22.0},{"d":204.6,"v":27.9},{"d":206.2,"v":29.3},{"d":207.5,"v":26.8},{"d":208.3,"v":27.9},{"d":209.1,"v":23.2},{"d":209.5,"v":27.8},{"d":210.3,"v":28.1},{"d":211.5,"v":28.4},{"d":212.3,"v":28.1},{"d":213.1,"v":24.8},{"d":213.9,"v":26.5},{"d":214.8,"v":28.4},{"d":216.4,"v":28.0},{"d":217.2,"v":27.5},{"d":218.0,"v":16.4},{"d":218.4,"v":27.2},{"d":219.6,"v":28.7},{"d":220.8,"v":28.7},{"d":222.1,"v":28.4},{"d":222.9,"v":12.5},{"d":223.7,"v":25.0},{"d":224.9,"v":22.7},{"d":225.7,"v":27.8},{"d":226.9,"v":27.5},{"d":228.1,"v":25.1},{"d":228.9,"v":9.5},{"d":230.2,"v":25.3},{"d":231.4,"v":25.7},{"d":232.6,"v":25.4},{"d":234.2,"v":18.4},{"d":235.4,"v":25.7},{"d":237.1,"v":25.9},{"d":238.7,"v":25.3},{"d":239.9,"v":23.9},{"d":240.7,"v":22.9},{"d":241.5,"v":23.5},{"d":242.7,"v":21.4},{"d":243.3,"v":18.8},{"d":243.9,"v":24.1},{"d":245.2,"v":23.8},{"d":246.0,"v":23.9},{"d":247.2,"v":22.9},{"d":248.0,"v":22.7},{"d":248.8,"v":22.4},{"d":250.0,"v":21.9},{"d":251.2,"v":21.8},{"d":252.1,"v":20.2},{"d":252.9,"v":18.6},{"d":254.1,"v":18.2},{"d":254.9,"v":21.7},{"d":255.7,"v":20.8},{"d":256.9,"v":17.8},{"d":258.5,"v":19.6}]
  },
  "spacing": 0,
  "bounds": "flush",
  "vconcat": [
    {
      "width": 712, "height": 499,
      "encoding": {"x": {"field": "d", "type": "quantitative", "scale": {"domain": [87.6, 260.8], "nice": false, "zero": false}, "axis": {"values": [100,120,140,160,180,200,220,240,260], "labels": false, "title": null}}},
      "layer": [
        {"encoding": {"y": {"field": "v", "type": "quantitative", "scale": {"domain": [0, 45], "nice": false, "zero": false}, "axis": {"values": [0,10,20,30,40], "title": null}}},
         "layer": [
          {"data": {"name": "tmax2014"}, "mark": {"type": "point", "shape": "circle", "filled": true, "color": "#000", "opacity": 1, "size": 115}},
          {"data": {"name": "tmin2014"}, "mark": {"type": "point", "shape": "circle", "filled": false, "stroke": "#000", "strokeWidth": 1.3, "opacity": 1, "size": 100}},
          {"data": {"values": [{"label": "2014", "d": 94.0, "v": 40.7}]}, "mark": {"type": "text", "align": "left", "baseline": "alphabetic", "fontSize": 27, "font": "Liberation Sans", "color": "#111"}, "encoding": {"text": {"field": "label"}}}
        ]},
        {"data": {"name": "rad2014"}, "mark": {"type": "point", "shape": "triangle-down", "filled": true, "color": "#e3151c", "opacity": 1, "size": 175},
         "encoding": {"y": {"field": "v", "type": "quantitative", "scale": {"domain": [0, 45], "nice": false, "zero": false}, "axis": {"orient": "right", "values": [0,10,20,30,40], "title": null}}}}
      ],
      "resolve": {"scale": {"y": "independent"}}
    },
    {
      "width": 712, "height": 500,
      "encoding": {"x": {"field": "d", "type": "quantitative", "scale": {"domain": [87.6, 260.8], "nice": false, "zero": false}, "axis": {"values": [100,120,140,160,180,200,220,240,260], "labels": false, "title": null}}},
      "layer": [
        {"encoding": {"y": {"field": "v", "type": "quantitative", "scale": {"domain": [0, 45], "nice": false, "zero": false}, "axis": {"values": [0,10,20,30,40], "title": "Temperature (ºC)", "titlePadding": 18}}},
         "layer": [
          {"data": {"name": "tmax2015"}, "mark": {"type": "point", "shape": "circle", "filled": true, "color": "#000", "opacity": 1, "size": 115}},
          {"data": {"name": "tmin2015"}, "mark": {"type": "point", "shape": "circle", "filled": false, "stroke": "#000", "strokeWidth": 1.3, "opacity": 1, "size": 100}},
          {"data": {"values": [{"label": "2015", "d": 94.3, "v": 40.1}]}, "mark": {"type": "text", "align": "left", "baseline": "alphabetic", "fontSize": 27, "font": "Liberation Sans", "color": "#111"}, "encoding": {"text": {"field": "label"}}}
        ]},
        {"data": {"name": "rad2015"}, "mark": {"type": "point", "shape": "triangle-down", "filled": true, "color": "#e3151c", "opacity": 1, "size": 175},
         "encoding": {"y": {"field": "v", "type": "quantitative", "scale": {"domain": [0, 45], "nice": false, "zero": false}, "axis": {"orient": "right", "values": [0,10,20,30,40], "title": "Radiation (MJ m⁻² day⁻¹)", "titleAngle": 270, "titleBaseline": "top", "titlePadding": 24}}}}
      ],
      "resolve": {"scale": {"y": "independent"}}
    },
    {
      "width": 712, "height": 489,
      "encoding": {"x": {"field": "d", "type": "quantitative", "scale": {"domain": [87.6, 260.8], "nice": false, "zero": false}, "axis": {"values": [100,120,140,160,180,200,220,240,260], "title": "DOY", "titleFontSize": 23, "labelPadding": 19, "titlePadding": 20}}},
      "layer": [
        {"encoding": {"y": {"field": "v", "type": "quantitative", "scale": {"domain": [0, 44], "nice": false, "zero": false}, "axis": {"values": [0,10,20,30,40], "title": null}}},
         "layer": [
          {"data": {"name": "tmax2016"}, "mark": {"type": "point", "shape": "circle", "filled": true, "color": "#000", "opacity": 1, "size": 115}},
          {"data": {"name": "tmin2016"}, "mark": {"type": "point", "shape": "circle", "filled": false, "stroke": "#000", "strokeWidth": 1.3, "opacity": 1, "size": 100}},
          {"data": {"values": [{"label": "2016", "d": 94.3, "v": 38.9}]}, "mark": {"type": "text", "align": "left", "baseline": "alphabetic", "fontSize": 27, "font": "Liberation Sans", "color": "#111"}, "encoding": {"text": {"field": "label"}}}
        ]},
        {"data": {"name": "rad2016"}, "mark": {"type": "point", "shape": "triangle-down", "filled": true, "color": "#e3151c", "opacity": 1, "size": 175},
         "encoding": {"y": {"field": "v", "type": "quantitative", "scale": {"domain": [0, 44], "nice": false, "zero": false}, "axis": {"orient": "right", "values": [0,10,20,30,40], "title": null}}}}
      ],
      "resolve": {"scale": {"y": "independent"}}
    }
  ]
}
